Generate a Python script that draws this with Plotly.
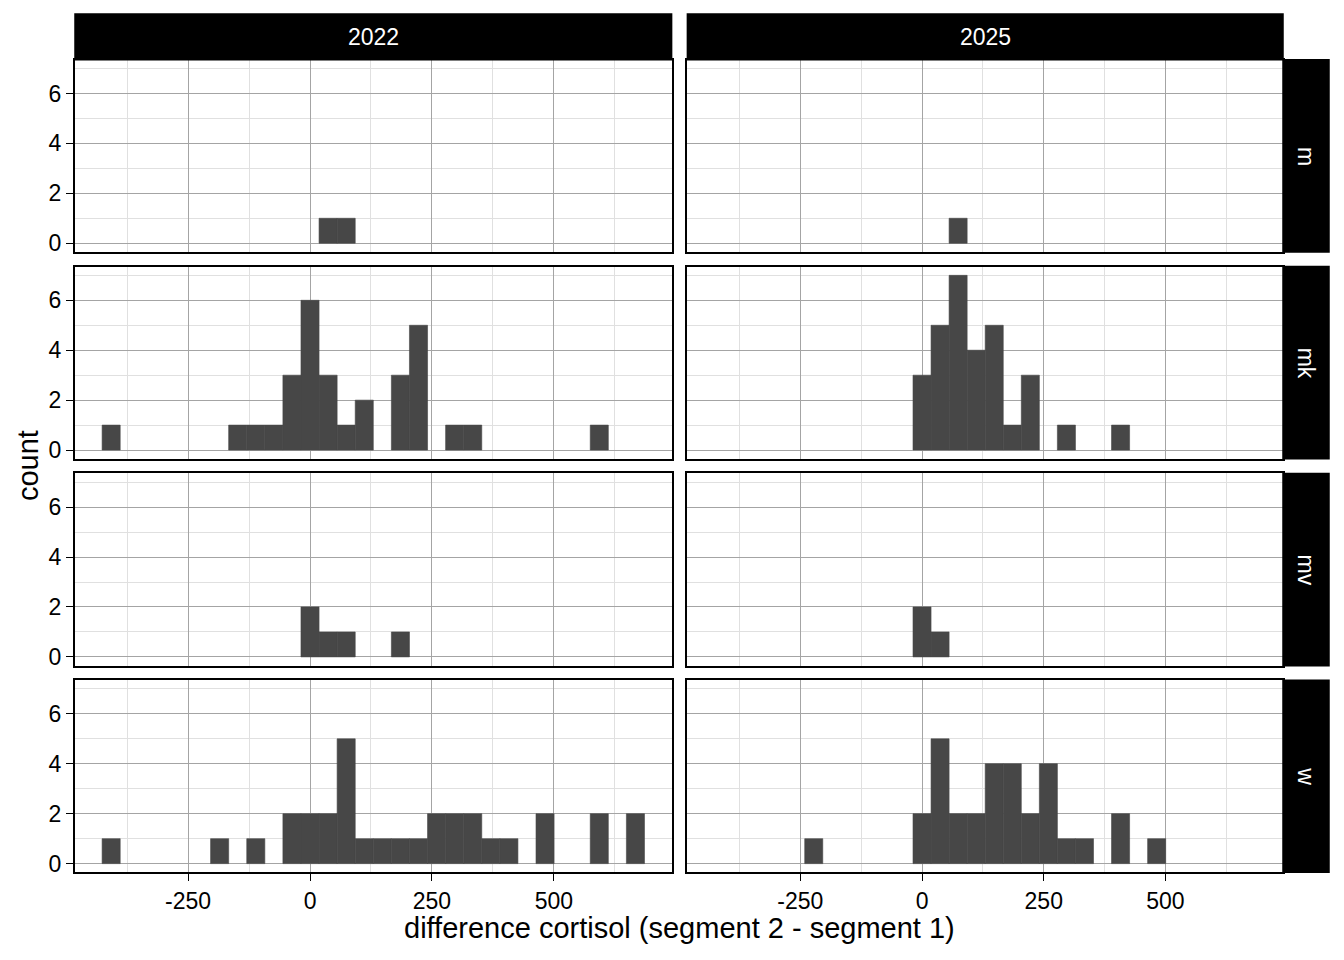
import plotly.graph_objects as go

# ---- data ----
bin_start = -426.3          # left edge of first bin
bin_width = 37.07           # ggplot bins = 30
n_bins = 30

years = ["2022", "2025"]
groups = ["m", "mk", "mv", "w"]

def counts_from(d):
    return [d.get(i, 0) for i in range(n_bins)]

m_2022 = counts_from({12: 1, 13: 1})
m_2025 = counts_from({13: 1})
mk_2022 = counts_from({0: 1, 7: 1, 8: 1, 9: 1, 10: 3, 11: 6, 12: 3, 13: 1, 14: 2,
                       16: 3, 17: 5, 19: 1, 20: 1, 27: 1})
mk_2025 = counts_from({11: 3, 12: 5, 13: 7, 14: 4, 15: 5, 16: 1, 17: 3, 19: 1, 22: 1})
mv_2022 = counts_from({11: 2, 12: 1, 13: 1, 16: 1})
mv_2025 = counts_from({11: 2, 12: 1})
w_2022 = counts_from({0: 1, 6: 1, 8: 1, 10: 2, 11: 2, 12: 2, 13: 5, 14: 1, 15: 1, 16: 1,
                      17: 1, 18: 2, 19: 2, 20: 2, 21: 1, 22: 1, 24: 2, 27: 2, 29: 2})
w_2025 = counts_from({5: 1, 11: 2, 12: 5, 13: 2, 14: 2, 15: 4, 16: 4, 17: 2, 18: 4,
                      19: 1, 20: 1, 22: 2, 24: 1})

panel_counts = {
    ("m", "2022"): m_2022, ("m", "2025"): m_2025,
    ("mk", "2022"): mk_2022, ("mk", "2025"): mk_2025,
    ("mv", "2022"): mv_2022, ("mv", "2025"): mv_2025,
    ("w", "2022"): w_2022, ("w", "2025"): w_2025,
}

x_major = [-250, 0, 250, 500]
x_major_labels = ["-250", "0", "250", "500"]
x_minor = [-375, -125, 125, 375, 625]
y_major = [0, 2, 4, 6]
y_minor = [1, 3, 5, 7]

x_title = "difference cortisol (segment 2 - segment 1)"
y_title = "count"

# ---- layout geometry (page pixels) ----
OFF = 8                      # default page body margin
W, H = 1344 - OFF, 960 - OFF
FONT = "Liberation Sans, Arial, Helvetica, sans-serif"
BAR = "#474747"

col_x = [(75, 671.6), (687.4, 1283)]
row_y = [(60, 253), (267.7, 460.7), (475.4, 668.4), (683, 876)]
strip_top = (14, 60)
strip_right = (1283, 1329)

def fx(p):
    return (p - OFF) / W

def fy(p):
    return 1 - (p - OFF) / H

centers = [bin_start + bin_width * (i + 0.5) for i in range(n_bins)]
x_lo = bin_start
x_hi = bin_start + bin_width * n_bins
span = x_hi - x_lo
x_range = [x_lo - 0.05 * span, x_hi + 0.05 * span]
y_max = max(max(v) for v in panel_counts.values())
y_range = [-0.05 * y_max, y_max * 1.05]

fig = go.Figure()
layout = dict(
    width=W, height=H,
    margin=dict(l=0, r=0, t=0, b=0),
    paper_bgcolor="white", plot_bgcolor="white",
    showlegend=False, hovermode=False,
    font=dict(family=FONT, color="black"),
    shapes=[], annotations=[],
)

k = 0
for r, g in enumerate(groups):
    for c, yr in enumerate(years):
        k += 1
        xa = "x" if k == 1 else f"x{k}"
        ya = "y" if k == 1 else f"y{k}"
        counts = panel_counts[(g, yr)]
        fig.add_trace(go.Bar(
            x=centers, y=[v if v > 0 else None for v in counts], width=bin_width,
            marker=dict(color=BAR, line=dict(width=0.6, color=BAR)),
            xaxis=xa, yaxis=ya,
        ))
        bottom = (r == len(groups) - 1)
        left = (c == 0)
        layout[f"xaxis{k}" if k > 1 else "xaxis"] = dict(
            domain=[fx(col_x[c][0]), fx(col_x[c][1])],
            anchor=ya, range=x_range, fixedrange=True,
            tickmode="array", tickvals=x_major, ticktext=x_major_labels,
            showticklabels=bottom,
            ticks="outside" if bottom else "", ticklen=7, tickwidth=1.4, tickcolor="black",
            tickfont=dict(family=FONT, size=23, color="black"),
            showgrid=True, gridcolor="#a4a4a4", gridwidth=1,
            minor=dict(tickvals=x_minor, showgrid=True, gridcolor="#e0e0e0", gridwidth=1, ticks=""),
            zeroline=False,
            showline=True, mirror=True, linecolor="black", linewidth=2,
        )
        layout[f"yaxis{k}" if k > 1 else "yaxis"] = dict(
            domain=[fy(row_y[r][1]), fy(row_y[r][0])],
            anchor=xa, range=y_range, fixedrange=True,
            tickmode="array", tickvals=y_major, ticktext=[str(v) for v in y_major],
            showticklabels=left,
            ticks="outside" if left else "", ticklen=7, tickwidth=1.4, tickcolor="black",
            tickfont=dict(family=FONT, size=23, color="black"),
            showgrid=True, gridcolor="#a4a4a4", gridwidth=1,
            minor=dict(tickvals=y_minor, showgrid=True, gridcolor="#e0e0e0", gridwidth=1, ticks=""),
            zeroline=False,
            showline=True, mirror=True, linecolor="black", linewidth=2,
        )

# column strips
for c, yr in enumerate(years):
    layout["shapes"].append(dict(
        type="rect", xref="paper", yref="paper",
        x0=fx(col_x[c][0]), x1=fx(col_x[c][1]), y0=fy(strip_top[1]), y1=fy(strip_top[0]),
        fillcolor="black", line=dict(color="black", width=1.5),
    ))
    layout["annotations"].append(dict(
        text=yr, xref="paper", yref="paper", showarrow=False,
        x=fx((col_x[c][0] + col_x[c][1]) / 2), y=fy((strip_top[0] + strip_top[1]) / 2),
        xanchor="center", yanchor="middle",
        font=dict(family=FONT, size=23, color="white"),
    ))

# row strips
for r, g in enumerate(groups):
    layout["shapes"].append(dict(
        type="rect", xref="paper", yref="paper",
        x0=fx(strip_right[0]), x1=fx(strip_right[1]), y0=fy(row_y[r][1]), y1=fy(row_y[r][0]),
        fillcolor="black", line=dict(color="black", width=1.5),
    ))
    layout["annotations"].append(dict(
        text=g, xref="paper", yref="paper", showarrow=False, textangle=90,
        x=fx((strip_right[0] + strip_right[1]) / 2), y=fy((row_y[r][0] + row_y[r][1]) / 2),
        xanchor="center", yanchor="middle",
        font=dict(family=FONT, size=23, color="white"),
    ))

# axis titles
layout["annotations"].append(dict(
    text=x_title, xref="paper", yref="paper", showarrow=False,
    x=fx((col_x[0][0] + col_x[1][1]) / 2), y=fy(932),
    xanchor="center", yanchor="middle",
    font=dict(family=FONT, size=29, color="black"),
))
layout["annotations"].append(dict(
    text=y_title, xref="paper", yref="paper", showarrow=False, textangle=-90,
    x=fx(28), y=fy((row_y[0][0] + row_y[-1][1]) / 2),
    xanchor="center", yanchor="middle",
    font=dict(family=FONT, size=29, color="black"),
))

fig.update_layout(**layout)
fig.write_html("out.html")
